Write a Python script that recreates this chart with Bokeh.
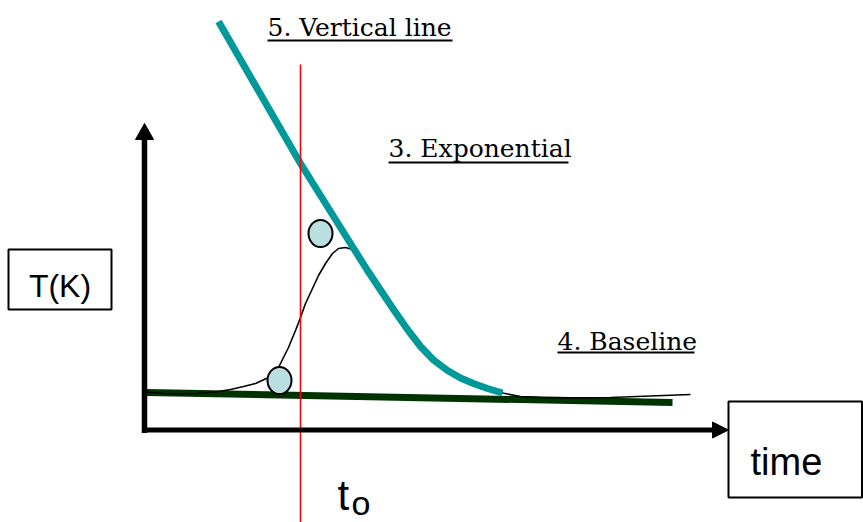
from bokeh.plotting import figure
from bokeh.models import Range1d
from bokeh.core.properties import value
from bokeh.embed import file_html
from bokeh.resources import INLINE

# ---- data (diagram units: origin at axis corner, x = time, y = T) ----
# measured temperature response
curve_t = [0, 17, 34, 51, 69, 84, 97, 109, 122, 132, 142, 149, 154, 159, 166, 172,
           179, 186, 192, 199, 206, 221, 247, 261, 274, 287, 301, 314, 327, 341,
           356, 374, 394, 424, 464, 504, 544]
curve_T = [38.5, 37, 36.5, 37, 38.5, 41, 44, 47, 53, 63, 83, 100, 113, 127, 142, 155,
           167, 177, 182, 183, 181, 160, 121, 101, 84, 70.5, 60, 52.5, 47, 42,
           37.5, 34, 33, 32.5, 33, 34.5, 36]

# exponential fit (teal)
exp_t = [72, 154, 199, 221, 247, 261, 274, 287, 301, 314, 327, 341, 356]
exp_T = [409, 267, 195, 160, 121, 101, 84, 70.5, 60, 52.5, 47, 42, 37.5]

# baseline (dark green)
base_t = [0, 526]
base_T = [38, 28]

# vertical line at t0
t0 = 154
vline_T = [-92, 366]

# fit-window markers
marker_t = [174, 133]
marker_T = [197, 50]

# axes
yaxis_x = -2
yaxis_top = 307
xaxis_end = 582

# labels
label_text = ["5. Vertical line", "3. Exponential", "4. Baseline"]
label_t = [121, 242, 411]
label_T = [403, 282, 89]
label_end = [306, 422, 548]
label_uline = [390, 268, 78]

# ---- figure ----
p = figure(width=863, height=522, x_range=Range1d(-146, 717), y_range=Range1d(-92, 430),
           min_border=0, toolbar_location=None, output_backend="svg",
           x_axis_location=None, y_axis_location=None)
p.grid.visible = False
p.outline_line_color = None
p.background_fill_color = "white"

# baseline
p.line(base_t, base_T, line_color="#003300", line_width=7)
# response curve
p.line(curve_t, curve_T, line_color="black", line_width=1.6)
# exponential
p.line(exp_t, exp_T, line_color="#009999", line_width=7)
# vertical line
p.line([t0, t0], vline_T, line_color="red", line_width=1.6)
# markers
p.ellipse(marker_t, marker_T, width=24, height=27, fill_color="#b9dfe2",
          line_color="black", line_width=2)

# axes with arrow heads
p.line([yaxis_x, yaxis_x], [-2.5, yaxis_top - 16], line_color="black", line_width=5.5)
p.line([yaxis_x - 2.5, xaxis_end - 16], [0.5, 0.5], line_color="black", line_width=5)
p.patch([yaxis_x - 9, yaxis_x, yaxis_x + 9], [yaxis_top - 16, yaxis_top, yaxis_top - 16],
        fill_color="black", line_color="black")
p.patch([xaxis_end - 16, xaxis_end, xaxis_end - 16], [8.5, 0.5, -7.5],
        fill_color="black", line_color="black")

# labels (underlined serif)
p.text(label_t, label_T, text=label_text, text_font=value("DejaVu Serif"),
       text_font_size="25px", text_color="black", text_baseline="middle",
       text_align="left")
p.segment(x0=label_t, y0=label_uline, x1=label_end, y1=label_uline,
          line_color="black", line_width=2)

# boxes
p.quad(left=[-138, 582], right=[-35, 715.5], top=[181, 29], bottom=[121, -67],
       fill_color=None, line_color="black", line_width=2)
p.text([-86.5], [145], text=["T(K)"], text_font=value("Liberation Sans"),
       text_font_size="32px", text_align="center", text_baseline="middle")
p.text([604], [-31], text=["time"], text_font=value("Liberation Sans"),
       text_font_size="38px", text_align="left", text_baseline="middle")
p.text([191], [-65], text=["t"], text_font=value("Liberation Sans"),
       text_font_size="42px", text_align="left", text_baseline="middle")
p.text([205], [-72], text=["o"], text_font=value("Liberation Sans"),
       text_font_size="34px", text_align="left", text_baseline="middle")

open("out.html", "w").write(file_html(p, INLINE))
